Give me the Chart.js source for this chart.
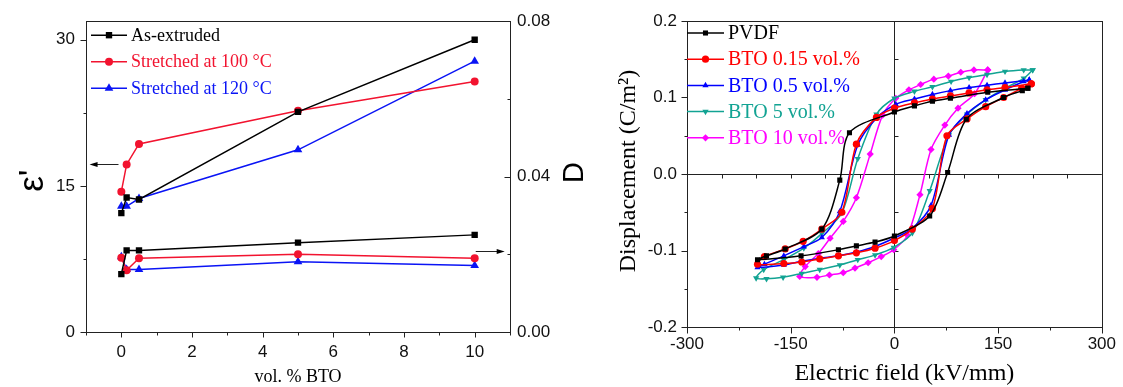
<!DOCTYPE html>
<html>
<head>
<meta charset="utf-8">
<script src="https://cdn.jsdelivr.net/npm/chart.js@4.4.1/dist/chart.umd.min.js"></script>
<style>
    html, body { margin: 0; padding: 0; background: #fff; }
    #page { position: relative; width: 1123px; height: 387px; }
    #permittivityChart { position: absolute; left: 0; top: 0; }
    #loopChart { position: absolute; left: 600px; top: 0; }
</style>
</head>
<body>
<div id="page">
    <canvas id="permittivityChart" width="600" height="387"></canvas>
    <canvas id="loopChart" width="523" height="387"></canvas>
</div>
<script>
// left panel: permittivity and loss vs BTO content
const volBTO = [0, 0.15, 0.5, 5, 10];
const epsExtruded = [12.2, 13.8, 13.6, 22.6, 30.0];
const eps100 = [14.4, 17.2, 19.3, 22.7, 25.7];
const eps120 = [12.9, 12.9, 13.7, 18.7, 27.8];
const lossExtruded = [0.0149, 0.0210, 0.0210, 0.0230, 0.0250];
const loss100 = [0.0191, 0.0159, 0.0190, 0.0200, 0.0190];
const loss120 = [0.0194, 0.0161, 0.0161, 0.0181, 0.0171];

const volTicks = [0, 2, 4, 6, 8, 10];
const volMinorTicks = [-1, 1, 3, 5, 7, 9, 11];
const epsTicks = [0, 15, 30];
const epsMinorTicks = [7.5, 22.5];
const lossTicks = [0, 0.04, 0.08];
const lossMinorTicks = [0.02, 0.06];

// right panel: D-E loops (upper branch going down, then lower branch going up)
const pvdfField = [193, 135, 81, 55, 29, 0, -65, -79, -105, -158, -185, -198, -135, -81, -55, -28, 0, 51, 77, 104, 158, 185, 193];
const pvdfDisp = [0.112, 0.107, 0.099, 0.095, 0.089, 0.081, 0.054, -0.008, -0.072, -0.098, -0.107, -0.112, -0.107, -0.099, -0.094, -0.089, -0.081, -0.055, 0.002, 0.0715, 0.100, 0.109, 0.112];

const bto015Field = [198, 160, 134, 108, 81, 55, 29, 0, -26, -55, -76, -105, -132, -158, -188, -198, -160, -134, -108, -81, -55, -28, 0, 26, 55, 76, 105, 132, 158, 184, 198];
const bto015Disp = [0.118, 0.113, 0.110, 0.106, 0.102, 0.098, 0.093, 0.086, 0.074, 0.039, -0.050, -0.072, -0.088, -0.098, -0.108, -0.118, -0.117, -0.115, -0.111, -0.107, -0.103, -0.097, -0.087, -0.072, -0.045, 0.050, 0.072, 0.088, 0.100, 0.112, 0.118];

const bto05Field = [195, 160, 134, 108, 81, 55, 29, 2, -26, -53, -79, -105, -131, -160, -188, -198, -160, -134, -108, -81, -55, -29, -1, 26, 53, 79, 105, 132, 160, 187, 195];
const bto05Disp = [0.123, 0.119, 0.116, 0.113, 0.109, 0.104, 0.098, 0.091, 0.073, 0.038, -0.049, -0.083, -0.095, -0.107, -0.118, -0.122, -0.119, -0.114, -0.110, -0.107, -0.102, -0.095, -0.084, -0.071, -0.041, 0.051, 0.079, 0.097, 0.110, 0.121, 0.123];

const bto5Field = [200, 187, 160, 134, 108, 82, 55, 29, 0, -26, -53, -76, -105, -131, -160, -189, -200, -185, -161, -134, -108, -79, -53, -28, -1, 26, 51, 79, 105, 132, 160, 187, 200];
const bto5Disp = [0.136, 0.136, 0.134, 0.130, 0.126, 0.121, 0.114, 0.108, 0.099, 0.078, 0.020, -0.051, -0.078, -0.097, -0.112, -0.125, -0.136, -0.137, -0.135, -0.130, -0.125, -0.119, -0.112, -0.106, -0.096, -0.077, -0.022, 0.051, 0.078, 0.097, 0.112, 0.125, 0.136];

const bto10Field = [135, 115, 96, 78, 57, 38, 21, 2, -17, -35, -55, -74, -93, -110, -129, -137, -112, -94, -74, -57, -38, -19, -1, 19, 37, 53, 73, 92, 116, 135];
const bto10Disp = [0.136, 0.136, 0.133, 0.128, 0.124, 0.117, 0.110, 0.099, 0.077, 0.026, -0.031, -0.062, -0.084, -0.104, -0.121, -0.134, -0.135, -0.132, -0.129, -0.123, -0.116, -0.108, -0.099, -0.080, -0.027, 0.032, 0.064, 0.086, 0.105, 0.136];

const fieldTicks = [-300, -150, 0, 150, 300];
const fieldMinorTicks = [-225, -75, 75, 225];
const dispTicks = [-0.2, -0.1, 0, 0.1, 0.2];
const dispMinorTicks = [-0.15, -0.05, 0.05, 0.15];
const zeroFieldTicks = [-250, -200, -150, -100, -50, 50, 100, 150, 200, 250];
const zeroDispTicks = [-0.15, -0.1, -0.05, 0.05, 0.1, 0.15];

const SERIF = '"Liberation Serif", "Times New Roman", serif';
const SANS = '"Liberation Sans", Arial, sans-serif';

const toPoints = (xs, ys) => xs.map((x, i) => ({ x, y: ys[i] }));

const crisp = (v) => Math.round(v) + 0.5;

const decorPlugin = (setup) => ({
    id: 'decor',

    beforeDatasetsDraw(chart) {
        if (!setup.zeroLines) {
            return;
        }
        const { ctx, chartArea } = chart;
        const xs = chart.scales.x;
        const ys = chart.scales.y;
        const x0 = crisp(xs.getPixelForValue(0));
        const y0 = crisp(ys.getPixelForValue(0));

        ctx.save();
        ctx.strokeStyle = '#222';
        ctx.lineWidth = 1;
        ctx.beginPath();
        ctx.moveTo(chartArea.left, y0);
        ctx.lineTo(chartArea.right, y0);
        ctx.moveTo(x0, chartArea.top);
        ctx.lineTo(x0, chartArea.bottom);
        zeroFieldTicks.forEach((v) => {
            const p = crisp(xs.getPixelForValue(v));
            ctx.moveTo(p, y0);
            ctx.lineTo(p, y0 + 4);
        });
        zeroDispTicks.forEach((v) => {
            const p = crisp(ys.getPixelForValue(v));
            ctx.moveTo(x0, p);
            ctx.lineTo(x0 + 4, p);
        });
        ctx.stroke();
        ctx.restore();
    },

    afterDraw(chart) {
        const { ctx, chartArea } = chart;
        ctx.save();

        // frame
        ctx.strokeStyle = '#222';
        ctx.lineWidth = 1;
        ctx.strokeRect(
            crisp(chartArea.left),
            crisp(chartArea.top),
            Math.round(chartArea.right - chartArea.left),
            Math.round(chartArea.bottom - chartArea.top),
        );

        // tick marks
        ctx.beginPath();
        setup.ticks.forEach(({ scale, values, length, inward }) => {
            const s = chart.scales[scale];
            values.forEach((v) => {
                const p = crisp(s.getPixelForValue(v));
                if (s.isHorizontal()) {
                    const y = crisp(chartArea.bottom);
                    ctx.moveTo(p, y);
                    ctx.lineTo(p, y + (inward ? -length : length));
                } else if (s.position === 'left') {
                    const x = crisp(chartArea.left);
                    ctx.moveTo(x, p);
                    ctx.lineTo(x + (inward ? length : -length), p);
                } else {
                    const x = crisp(chartArea.right);
                    ctx.moveTo(x, p);
                    ctx.lineTo(x + (inward ? -length : length), p);
                }
            });
        });
        ctx.stroke();

        // arrows
        (setup.arrows || []).forEach(({ yScale, from, to }) => {
            const xs = chart.scales.x;
            const ys = chart.scales[yScale];
            const x1 = xs.getPixelForValue(from[0]);
            const y1 = crisp(ys.getPixelForValue(from[1]));
            const x2 = xs.getPixelForValue(to[0]);
            const dir = Math.sign(x2 - x1);
            ctx.fillStyle = '#000';
            ctx.beginPath();
            ctx.moveTo(x1, y1);
            ctx.lineTo(x2 - dir * 7, y1);
            ctx.stroke();
            ctx.beginPath();
            ctx.moveTo(x2, y1);
            ctx.lineTo(x2 - dir * 8, y1 - 2.5);
            ctx.lineTo(x2 - dir * 8, y1 + 2.5);
            ctx.closePath();
            ctx.fill();
        });

        // axis titles
        setup.titles.forEach((t) => {
            const pos = t.at(chartArea);
            ctx.save();
            ctx.font = t.font;
            ctx.fillStyle = '#000';
            ctx.textAlign = 'center';
            ctx.textBaseline = 'alphabetic';
            ctx.translate(pos[0], pos[1]);
            if (t.rotate) {
                ctx.rotate(-Math.PI / 2);
            }
            ctx.fillText(t.text, 0, 0);
            ctx.restore();
        });

        // legend with line + marker samples
        const lg = setup.legend;
        ctx.font = lg.font;
        ctx.textBaseline = 'middle';
        ctx.textAlign = 'left';
        chart.data.datasets.slice(0, lg.count).forEach((ds, i) => {
            const y = chartArea.top + lg.top + i * lg.step;
            const x = chartArea.left + lg.left;
            ctx.strokeStyle = ds.borderColor;
            ctx.lineWidth = ds.borderWidth;
            ctx.beginPath();
            ctx.moveTo(x, y);
            ctx.lineTo(x + lg.lineLength, y);
            ctx.stroke();
            ctx.fillStyle = ds.pointBackgroundColor;
            Chart.helpers.drawPoint(ctx, {
                pointStyle: ds.pointStyle,
                rotation: ds.pointRotation || 0,
                radius: ds.pointRadius,
                borderWidth: 0,
            }, x + lg.lineLength / 2, y);
            ctx.fillStyle = ds.borderColor;
            ctx.fillText(ds.label, x + lg.lineLength + 4, y + 1);
        });

        ctx.restore();
    },
});

const tickFont = { family: SANS, size: 17 };

const fixedTicks = (values) => (scale) => {
    scale.ticks = values.map((value) => ({ value }));
};

// ---------- left panel ----------
const leftSeries = (label, ys, axis, color, style, radius) => ({
    label,
    data: toPoints(volBTO, ys),
    yAxisID: axis,
    showLine: true,
    borderColor: color,
    borderWidth: 1.5,
    pointBackgroundColor: color,
    pointBorderWidth: 0,
    pointStyle: style,
    pointRadius: radius,
    tension: 0,
});

const BLACK = '#000000';
const RED_L = '#f2132f';
const BLUE = '#0a14f5';

new Chart(document.getElementById('permittivityChart'), {
    type: 'scatter',
    data: {
        datasets: [
            leftSeries('As-extruded', epsExtruded, 'y', BLACK, 'rect', 4.5),
            leftSeries('Stretched at 100 °C', eps100, 'y', RED_L, 'circle', 4),
            leftSeries('Stretched at 120 °C', eps120, 'y', BLUE, 'triangle', 5),
            leftSeries('As-extruded D', lossExtruded, 'y1', BLACK, 'rect', 4.5),
            leftSeries('Stretched at 100 °C D', loss100, 'y1', RED_L, 'circle', 4),
            leftSeries('Stretched at 120 °C D', loss120, 'y1', BLUE, 'triangle', 5),
        ],
    },
    options: {
        responsive: false,
        animation: false,
        layout: { padding: { top: 21 } },
        plugins: {
            legend: { display: false },
            tooltip: { enabled: false },
        },
        scales: {
            x: {
                type: 'linear',
                min: -1,
                max: 11,
                grid: { display: false, drawTicks: false },
                border: { display: false },
                afterBuildTicks: fixedTicks(volTicks),
                afterFit(scale) { scale.height = 55; },
                ticks: { font: tickFont, color: '#111', padding: 10, maxRotation: 0 },
            },
            y: {
                position: 'left',
                min: 0,
                max: 31.9,
                grid: { display: false, drawTicks: false },
                border: { display: false },
                afterBuildTicks: fixedTicks(epsTicks),
                afterFit(scale) { scale.width = 86; },
                ticks: { font: tickFont, color: '#111', padding: 11 },
            },
            y1: {
                position: 'right',
                min: 0,
                max: 0.08,
                grid: { display: false, drawTicks: false },
                border: { display: false },
                afterBuildTicks: fixedTicks(lossTicks),
                afterFit(scale) { scale.width = 90; },
                ticks: {
                    font: tickFont,
                    color: '#111',
                    padding: 7,
                    callback: (v) => v.toFixed(2),
                },
            },
        },
    },
    plugins: [decorPlugin({
        ticks: [
            { scale: 'x', values: volTicks, length: 5, inward: false },
            { scale: 'x', values: volMinorTicks, length: 3, inward: false },
            { scale: 'y', values: epsTicks, length: 6, inward: false },
            { scale: 'y', values: epsMinorTicks, length: 3, inward: false },
            { scale: 'y1', values: lossTicks, length: 6, inward: true },
            { scale: 'y1', values: lossMinorTicks, length: 3, inward: true },
        ],
        arrows: [
            { yScale: 'y', from: [-0.08, 17.2], to: [-0.9, 17.2] },
            { yScale: 'y1', from: [10.03, 0.0208], to: [10.85, 0.0208] },
        ],
        titles: [
            { text: 'vol. % BTO', font: `18px ${SERIF}`, at: (a) => [(a.left + a.right) / 2, a.bottom + 50], rotate: false },
            { text: "ε'", font: `35px ${SANS}`, at: (a) => [a.left - 43, (a.top + a.bottom) / 2 + 4], rotate: true },
            { text: 'D', font: `29px ${SANS}`, at: (a) => [a.right + 73, (a.top + a.bottom) / 2 - 4], rotate: true },
        ],
        legend: { count: 3, left: 5, top: 14, step: 26.5, lineLength: 36, font: `18px ${SERIF}` },
    })],
});

// ---------- right panel ----------
const loopSeries = (label, xs, ys, color, style, rotation) => ({
    label,
    data: toPoints(xs, ys),
    showLine: true,
    borderColor: color,
    borderWidth: 1.5,
    pointBackgroundColor: color,
    pointBorderWidth: 0,
    pointStyle: style,
    pointRotation: rotation,
    pointRadius: 3.6,
    tension: 0.3,
});

new Chart(document.getElementById('loopChart'), {
    type: 'scatter',
    data: {
        datasets: [
            loopSeries('PVDF', pvdfField, pvdfDisp, '#000000', 'rect', 0),
            loopSeries('BTO 0.15 vol.%', bto015Field, bto015Disp, '#ff0000', 'circle', 0),
            loopSeries('BTO 0.5 vol.%', bto05Field, bto05Disp, '#0000ff', 'triangle', 0),
            loopSeries('BTO 5 vol.%', bto5Field, bto5Disp, '#12a393', 'triangle', 180),
            loopSeries('BTO 10 vol.%', bto10Field, bto10Disp, '#ff00ff', 'rectRot', 0),
        ],
    },
    options: {
        responsive: false,
        animation: false,
        layout: { padding: { top: 21, right: 19 } },
        plugins: {
            legend: { display: false },
            tooltip: { enabled: false },
        },
        scales: {
            x: {
                type: 'linear',
                min: -300,
                max: 300,
                grid: { display: false, drawTicks: false },
                border: { display: false },
                afterBuildTicks: fixedTicks(fieldTicks),
                afterFit(scale) { scale.height = 60; },
                ticks: { font: tickFont, color: '#111', padding: 7, maxRotation: 0 },
            },
            y: {
                position: 'left',
                min: -0.2,
                max: 0.2,
                grid: { display: false, drawTicks: false },
                border: { display: false },
                afterBuildTicks: fixedTicks(dispTicks),
                afterFit(scale) { scale.width = 87; },
                ticks: {
                    font: tickFont,
                    color: '#111',
                    padding: 10,
                    callback: (v) => v.toFixed(1),
                },
            },
        },
    },
    plugins: [decorPlugin({
        zeroLines: true,
        ticks: [
            { scale: 'x', values: fieldTicks, length: 6, inward: false },
            { scale: 'x', values: fieldMinorTicks, length: 3, inward: false },
            { scale: 'y', values: dispTicks, length: 6, inward: false },
            { scale: 'y', values: dispMinorTicks, length: 3, inward: false },
        ],
        titles: [
            { text: 'Electric field (kV/mm)', font: `24px ${SERIF}`, at: (a) => [(a.left + a.right) / 2 + 10, a.bottom + 53], rotate: false },
            { text: 'Displacement (C/m²)', font: `24px ${SERIF}`, at: (a) => [a.left - 52, (a.top + a.bottom) / 2 - 3], rotate: true },
        ],
        legend: { count: 5, left: 0, top: 12, step: 26.2, lineLength: 37, font: `20px ${SERIF}` },
    })],
});
</script>
</body>
</html>
